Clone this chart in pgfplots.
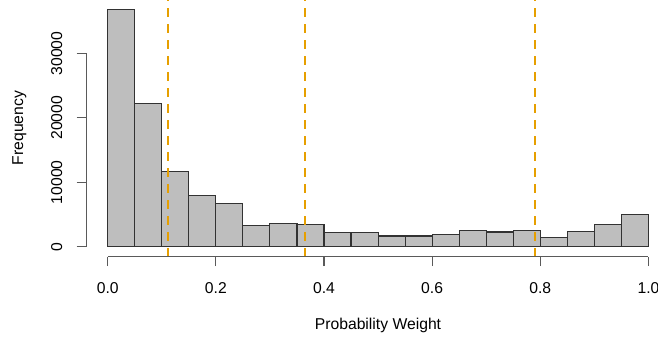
\documentclass[border=0pt]{standalone}
\usepackage{pgfplots}
\pgfplotsset{compat=1.18}
\usepackage{fontspec}
\setmainfont{Liberation Sans}
\definecolor{barfill}{RGB}{190,190,190}
\definecolor{barline}{RGB}{50,50,50}
\definecolor{axgray}{RGB}{90,90,90}
\definecolor{rorange}{RGB}{230,159,0}
\begin{document}
\fontsize{15.7bp}{18bp}\selectfont
\begin{tikzpicture}
\useasboundingbox (0,0) rectangle (658bp,340bp);
\begin{axis}[
  at={(86.1bp,83.3bp)}, anchor=south west,
  scale only axis, width=571.9bp, height=256.7bp,
  xmin=-0.04, xmax=1.0177, ymin=-1552, ymax=38288,
  clip=false,
  axis line style={draw=none},
  tick align=outside, major tick length=9.5bp,
  xtick pos=bottom, ytick pos=left,
  xtick={0,0.2,0.4,0.6,0.8,1.0},
  ytick={0,10000,20000,30000},
  scaled y ticks=false,
  tick style={axgray, line width=1.2bp},
  /pgf/number format/assume math mode=true,
  xticklabel style={/pgf/number format/.cd, fixed, fixed zerofill, precision=1, /tikz/.cd, anchor=center, yshift=-21.5bp},
  yticklabel style={/pgf/number format/.cd, 1000 sep={}, /tikz/.cd, xshift=-20bp, rotate=90, anchor=center},
  xlabel={Probability Weight},
  ylabel={Frequency},
  xlabel style={at={(axis description cs:0.5104,-0.2661)}, anchor=center},
  ylabel style={at={(axis description cs:-0.1168,0.501)}, anchor=center},
]
\addplot[ybar interval, fill=barfill, draw=barline, line width=1.1bp] coordinates {
(0.00,36840) (0.05,22250) (0.10,11640) (0.15,7915) (0.20,6725)
(0.25,3360) (0.30,3570) (0.35,3400) (0.40,2170) (0.45,2170)
(0.50,1655) (0.55,1655) (0.60,1860) (0.65,2535) (0.70,2280)
(0.75,2480) (0.80,1400) (0.85,2330) (0.90,3410) (0.95,4970) (1.00,4970)
};
\addplot[rorange, line width=2.2bp, dash pattern=on 9bp off 7bp] coordinates {(0.111,-1552) (0.111,38288)};
\addplot[rorange, line width=2.2bp, dash pattern=on 9bp off 7bp] coordinates {(0.365,-1552) (0.365,38288)};
\addplot[rorange, line width=2.2bp, dash pattern=on 9bp off 7bp] coordinates {(0.790,-1552) (0.790,38288)};
\draw[axgray, line width=1.2bp] (axis cs:0,-1552) -- (axis cs:1,-1552);
\draw[axgray, line width=1.2bp] (axis cs:-0.04,0) -- (axis cs:-0.04,30000);
\end{axis}
\end{tikzpicture}
\end{document}
